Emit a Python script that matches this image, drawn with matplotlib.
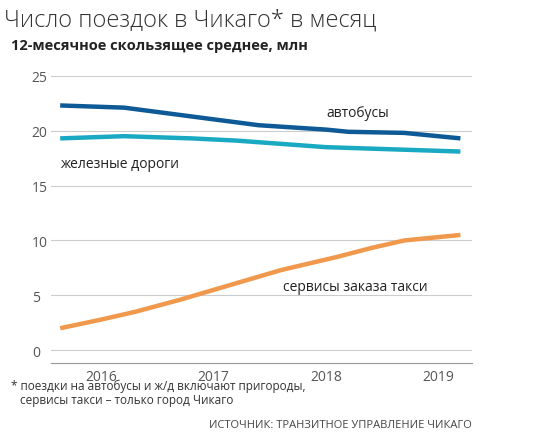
import matplotlib
matplotlib.use("Agg")
import matplotlib.pyplot as plt

bus_x = [2015.63, 2016.2, 2016.8, 2017.4, 2018.0, 2018.2, 2018.7, 2019.2]
bus_y = [22.3, 22.1, 21.3, 20.5, 20.1, 19.9, 19.8, 19.3]
rail_x = [2015.63, 2016.2, 2016.8, 2017.2, 2017.6, 2018.0, 2018.6, 2019.2]
rail_y = [19.3, 19.5, 19.3, 19.1, 18.8, 18.5, 18.3, 18.1]
taxi_x = [2015.63, 2016.0, 2016.3, 2016.7, 2017.0, 2017.3, 2017.6, 2018.1, 2018.4, 2018.7, 2019.0, 2019.2]
taxi_y = [2.0, 2.8, 3.5, 4.6, 5.5, 6.4, 7.3, 8.5, 9.3, 10.0, 10.3, 10.5]
yticks = [0, 5, 10, 15, 20, 25]
xticks = [2016, 2017, 2018, 2019]

plt.rcParams['font.family'] = ['Open Sans', 'DejaVu Sans']
fig = plt.figure(figsize=(5.39, 4.39), dpi=100)
ax = fig.add_axes([0.095, 0.17, 0.78, 0.655])
ax.plot(bus_x, bus_y, color='#0d5a96', lw=3.2, solid_capstyle='butt')
ax.plot(rail_x, rail_y, color='#1aa9c2', lw=3.2, solid_capstyle='butt')
ax.plot(taxi_x, taxi_y, color='#f0984c', lw=3.2, solid_capstyle='butt')
ax.set_xlim(2015.55, 2019.3)
ax.set_ylim(-1.2, 25)
ax.set_yticks(yticks)
ax.set_xticks(xticks)
ax.grid(axis='y', color='#cccccc', lw=0.8)
for s in ax.spines.values():
    s.set_visible(False)
ax.spines['bottom'].set_visible(True)
ax.spines['bottom'].set_color('#999999')
ax.tick_params(axis='y', length=0, labelcolor='#555555', labelsize=10, pad=14)
ax.tick_params(axis='x', length=0, labelcolor='#555555', labelsize=10, pad=4)
for l in ax.get_yticklabels():
    l.set_horizontalalignment('left')
ax.text(2018.0, 21.3, 'автобусы', fontsize=10, color='#222222')
ax.text(2015.63, 16.7, 'железные дороги', fontsize=10, color='#222222')
ax.text(2017.62, 5.5, 'сервисы заказа такси', fontsize=10, color='#222222')
fig.text(0.008, 0.94, 'Число поездок в Чикаго* в месяц', fontsize=17, color='#333333', fontweight='light')
fig.text(0.02, 0.885, '12-месячное скользящее среднее, млн', fontsize=10.5, color='#222222', fontweight='bold')
fig.text(0.02, 0.135, '* поездки на автобусы и ж/д включают пригороды,\n   сервисы такси – только город Чикаго', fontsize=8.5, color='#333333', va='top', linespacing=1.1)
fig.text(0.875, 0.025, 'ИСТОЧНИК: ТРАНЗИТНОЕ УПРАВЛЕНИЕ ЧИКАГО', fontsize=8, color='#444444', ha='right')
fig.savefig('out.png', dpi=100)
